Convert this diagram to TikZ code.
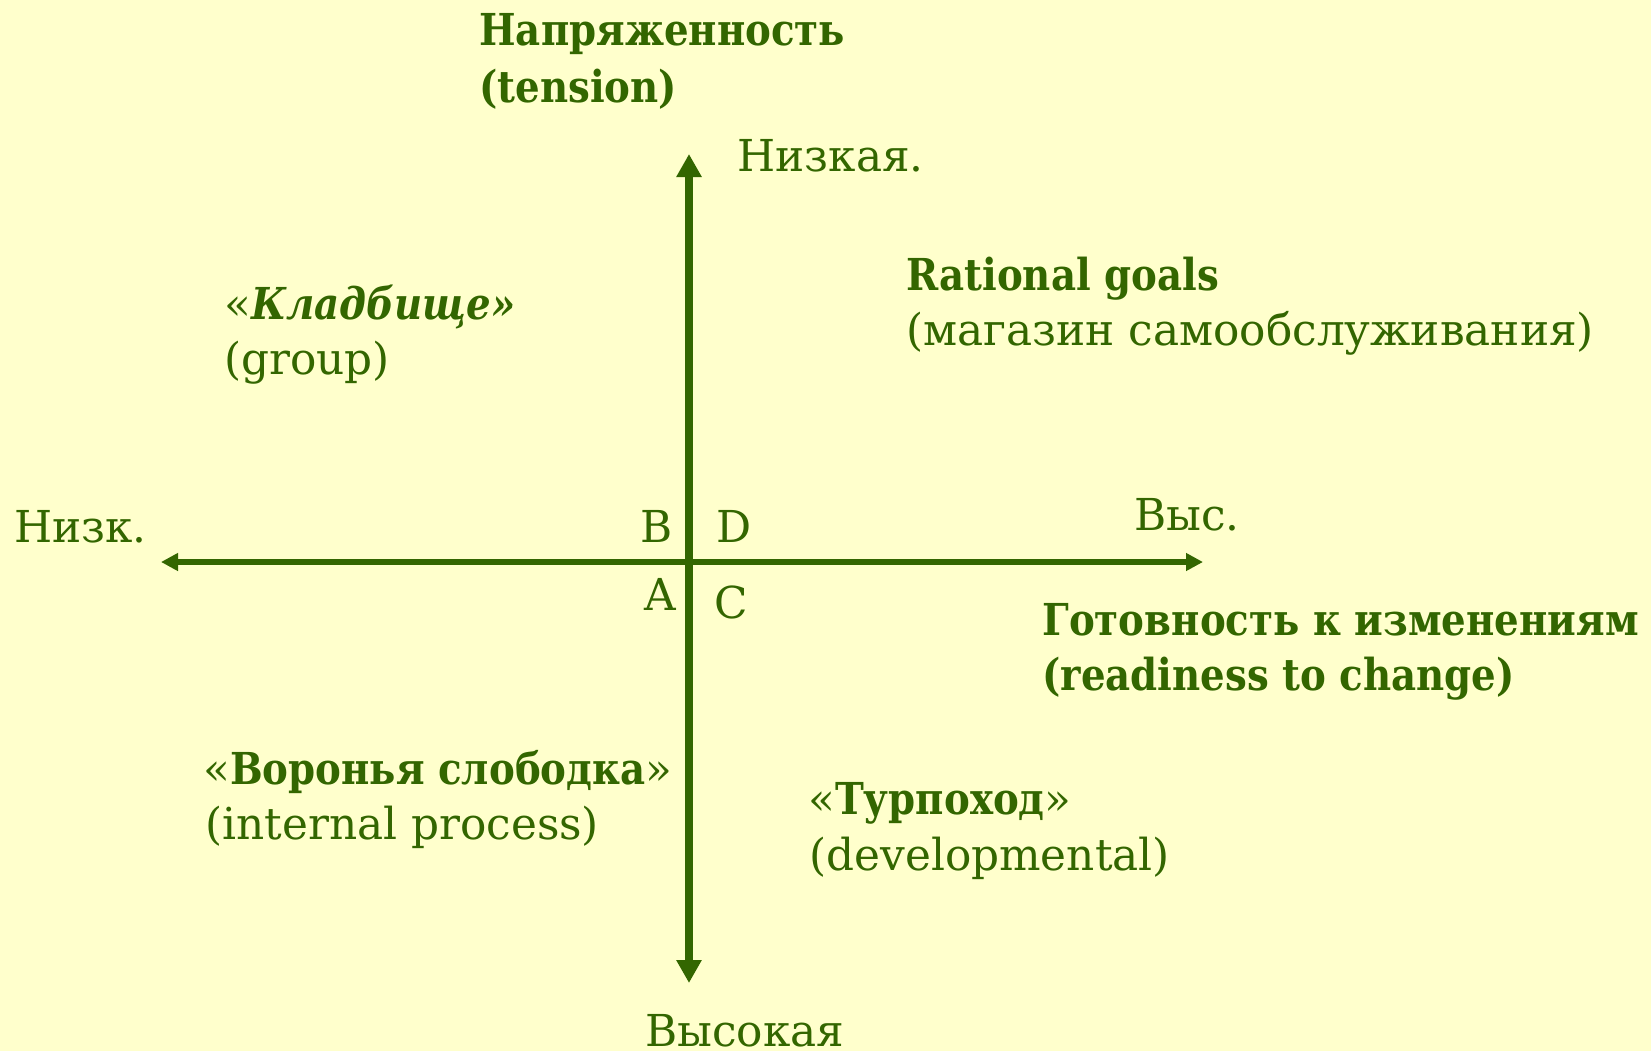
\documentclass[tikz,border=0pt]{standalone}
\usepackage{fontspec}
\setmainfont{DejaVu Serif}[
  UprightFeatures={FakeStretch=0.995},
  BoldFeatures={FakeStretch=0.88},
  BoldItalicFeatures={FakeStretch=0.88}]
\usetikzlibrary{arrows.meta}
\definecolor{bgyellow}{HTML}{FFFFCC}
\definecolor{dgreen}{HTML}{336600}
\tikzset{
  lbl/.style={inner sep=0pt, anchor=base west, text=dgreen, font=\fontsize{22}{26}\selectfont},
  blbl/.style={lbl, font=\fontsize{22}{26}\selectfont\bfseries},
  vaxis/.style={draw=dgreen, line width=3.75pt, -{Triangle[length=11.5pt,width=12pt]}},
  haxis/.style={draw=dgreen, line width=3pt, -{Triangle[length=8.5pt,width=8.5pt]}}
}
\begin{document}
\begin{tikzpicture}[x=0.5pt,y=-0.5pt]
\fill[bgyellow] (0,0) rectangle (1651,1051);
\useasboundingbox (0,0) rectangle (1651,1051);
% axes
\coordinate (O) at (689,562);
\coordinate (top) at (689,154);
\coordinate (bot) at (689,983);
\coordinate (left) at (161,562);
\coordinate (right) at (1203,562);
\draw[haxis] (O) -- (left);
\draw[haxis] (O) -- (right);
\draw[vaxis] (O) -- (top);
\draw[vaxis] (O) -- (bot);
% labels
\node[blbl] (ten1) at (479,45) {Напряженность};
\node[blbl] (ten2) at (479,102) {(tension)};
\node[lbl] (lowtop) at (737,171) {Низкая.};
\node[blbl] (rat1) at (906,290) {Rational goals};
\node[lbl] (rat2) at (906,345) {(магазин самообслуживания)};
\node[lbl] (kl1) at (224,319) {«\textbf{\textit{Кладбище»}}};
\node[lbl] (kl2) at (224,374) {(group)};
\node[lbl] (lowl) at (14,542) {Низк.};
\node[lbl] (nB) at (640,542) {B};
\node[lbl] (nD) at (716,542) {D};
\node[lbl] (nA) at (644,610) {A};
\node[lbl] (nC) at (714,618) {C};
\node[lbl] (highr) at (1134,530) {Выс.};
\node[blbl] (got1) at (1042,635) {Готовность к изменениям};
\node[blbl] (got2) at (1042,690) {(readiness to change)};
\node[lbl] (vor1) at (203,784) {«\textbf{Воронья слободка}»};
\node[lbl] (vor2) at (205,839) {(internal process)};
\node[lbl] (tur1) at (808,814) {«\textbf{Турпоход}»};
\node[lbl] (tur2) at (809,870) {(developmental)};
\node[lbl] (highb) at (645,1046) {Высокая};
\end{tikzpicture}
\end{document}
